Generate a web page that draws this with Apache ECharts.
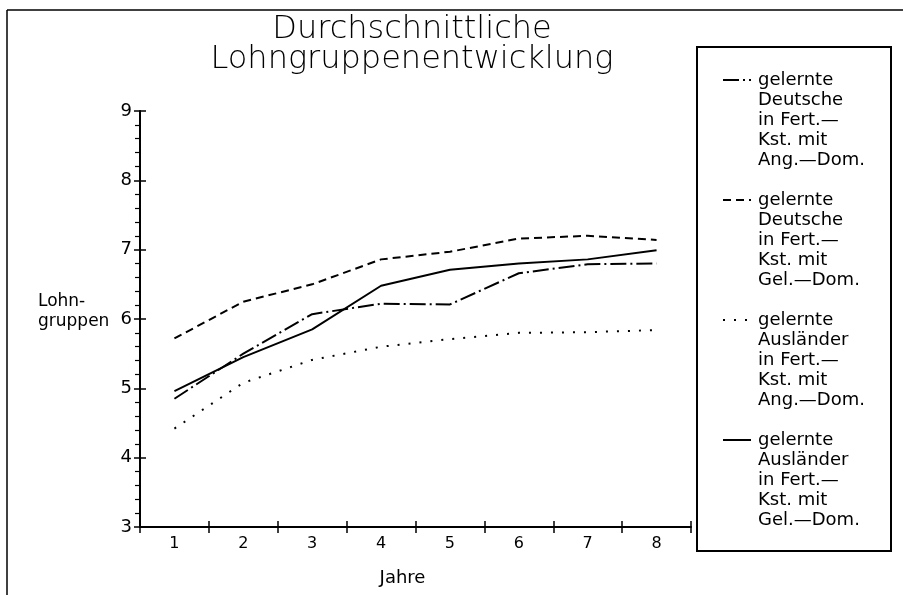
<!DOCTYPE html>
<html>
<head>
<meta charset="utf-8">
<script src="https://cdn.jsdelivr.net/npm/echarts@6/dist/echarts.min.js"></script>
<style>
html,body{margin:0;padding:0;background:#fff;}
#chart{width:903px;height:595px;}
</style>
</head>
<body>
<div id="chart"></div>
<script>
const categories = ['1', '2', '3', '4', '5', '6', '7', '8'];
const titleText = 'Durchschnittliche\nLohngruppenentwicklung';
const xName = 'Jahre';
const yNameLines = ['Lohn-', 'gruppen'];
const yMin = 3, yMax = 9, yStep = 1;

const nameDeutscheAng = 'gelernte\nDeutsche\nin Fert.\u2014\nKst. mit\nAng.\u2014Dom.';
const nameDeutscheGel = 'gelernte\nDeutsche\nin Fert.\u2014\nKst. mit\nGel.\u2014Dom.';
const nameAuslaenderAng = 'gelernte\nAusl\u00e4nder\nin Fert.\u2014\nKst. mit\nAng.\u2014Dom.';
const nameAuslaenderGel = 'gelernte\nAusl\u00e4nder\nin Fert.\u2014\nKst. mit\nGel.\u2014Dom.';

const deutscheAng   = [4.85, 5.50, 6.07, 6.22, 6.21, 6.66, 6.79, 6.80];
const deutscheGel   = [5.72, 6.25, 6.50, 6.86, 6.97, 7.16, 7.20, 7.14];
const auslaenderAng = [4.42, 5.08, 5.41, 5.60, 5.71, 5.80, 5.81, 5.84];
const auslaenderGel = [4.96, 5.45, 5.85, 6.48, 6.71, 6.80, 6.86, 6.99];

const FONT = 'DejaVu Sans';
const chart = echarts.init(document.getElementById('chart'), null, {renderer: 'canvas'});

function lineSeries(name, data, type) {
  return {
    name: name, type: 'line', data: data,
    xAxisIndex: 0, yAxisIndex: 0,
    symbol: 'none', smooth: false, silent: true,
    color: '#000',
    itemStyle: {color: '#000'},
    lineStyle: {color: '#000', width: 2, type: type, cap: 'butt'},
    emphasis: {disabled: true}
  };
}

const option = {
  backgroundColor: '#fff',
  animation: false,
  color: ['#000', '#000', '#000', '#000'],
  title: {
    text: titleText,
    left: 412,
    top: 15,
    textAlign: 'center',
    padding: 0,
    textStyle: {fontFamily: FONT, fontSize: 32, fontWeight: 200, color: '#000', lineHeight: 30}
  },
  grid: {left: 140, top: 111, width: 551, height: 416, containLabel: false},
  legend: {
    orient: 'vertical',
    left: 722,
    top: -10,
    padding: 0,
    itemGap: -60,
    itemWidth: 28,
    itemHeight: 14,
    selectedMode: false,
    itemStyle: {opacity: 0},
    formatter: function (name) { return '\n\n\n\n' + name; },
    textStyle: {fontFamily: FONT, fontSize: 18, color: '#000', lineHeight: 20, padding: [0, 0, 0, 2]},
    data: [nameDeutscheAng, nameDeutscheGel, nameAuslaenderAng, nameAuslaenderGel]
  },
  xAxis: [{
    type: 'category', data: categories, boundaryGap: true,
    name: xName, nameLocation: 'middle', nameGap: 42,
    nameTextStyle: {fontFamily: FONT, fontSize: 18, color: '#000', padding: [0, 26, 0, 0]},
    axisLine: {show: true, lineStyle: {color: '#000', width: 2}},
    axisTick: {show: true, inside: false, length: 6, lineStyle: {color: '#000', width: 1.5}},
    axisLabel: {fontFamily: FONT, fontSize: 16, color: '#000', margin: 9},
    splitLine: {show: false}
  }, {
    type: 'category', data: categories, boundaryGap: true, position: 'bottom', offset: 0,
    axisLine: {show: false},
    axisTick: {show: true, inside: true, length: 6, lineStyle: {color: '#000', width: 1.5}},
    axisLabel: {show: false},
    splitLine: {show: false}
  }],
  yAxis: [{
    type: 'value', min: yMin, max: yMax, interval: yStep,
    name: '{a|' + yNameLines[0] + '}\n{a|' + yNameLines[1] + '}\n{b| }',
    nameLocation: 'middle', nameRotate: 0, nameGap: 102,
    nameTextStyle: {
      fontFamily: FONT, fontSize: 17, color: '#000', align: 'left',
      rich: {
        a: {fontFamily: FONT, fontSize: 17, color: '#000', lineHeight: 20},
        b: {fontSize: 8, lineHeight: 14}
      }
    },
    axisLine: {show: true, lineStyle: {color: '#000', width: 2}},
    axisTick: {show: true, inside: false, length: 6, lineStyle: {color: '#000', width: 1.5}},
    minorTick: {show: true, splitNumber: 5, length: 5, lineStyle: {color: '#000', width: 1.2}},
    axisLabel: {fontFamily: FONT, fontSize: 18, color: '#000', margin: 8},
    splitLine: {show: false},
    minorSplitLine: {show: false}
  }, {
    type: 'value', min: yMin, max: yMax, interval: yStep, position: 'left', offset: 0,
    axisLine: {show: false},
    axisTick: {show: true, inside: true, length: 6, lineStyle: {color: '#000', width: 1.5}},
    axisLabel: {show: false},
    splitLine: {show: false}
  }],
  graphic: [
    {type: 'line', shape: {x1: 7, y1: 10, x2: 903, y2: 10}, style: {stroke: '#000', lineWidth: 1.5}, silent: true},
    {type: 'line', shape: {x1: 7, y1: 10, x2: 7, y2: 595}, style: {stroke: '#000', lineWidth: 1.5}, silent: true},
    {type: 'rect', shape: {x: 697, y: 47, width: 194, height: 504}, style: {fill: 'none', stroke: '#000', lineWidth: 2}, silent: true}
  ],
  series: [
    lineSeries(nameDeutscheAng, deutscheAng, [16, 4, 2, 4]),
    lineSeries(nameDeutscheGel, deutscheGel, [8, 5]),
    lineSeries(nameAuslaenderAng, auslaenderAng, [2, 9]),
    lineSeries(nameAuslaenderGel, auslaenderGel, 'solid')
  ]
};
chart.setOption(option);
</script>
</body>
</html>
